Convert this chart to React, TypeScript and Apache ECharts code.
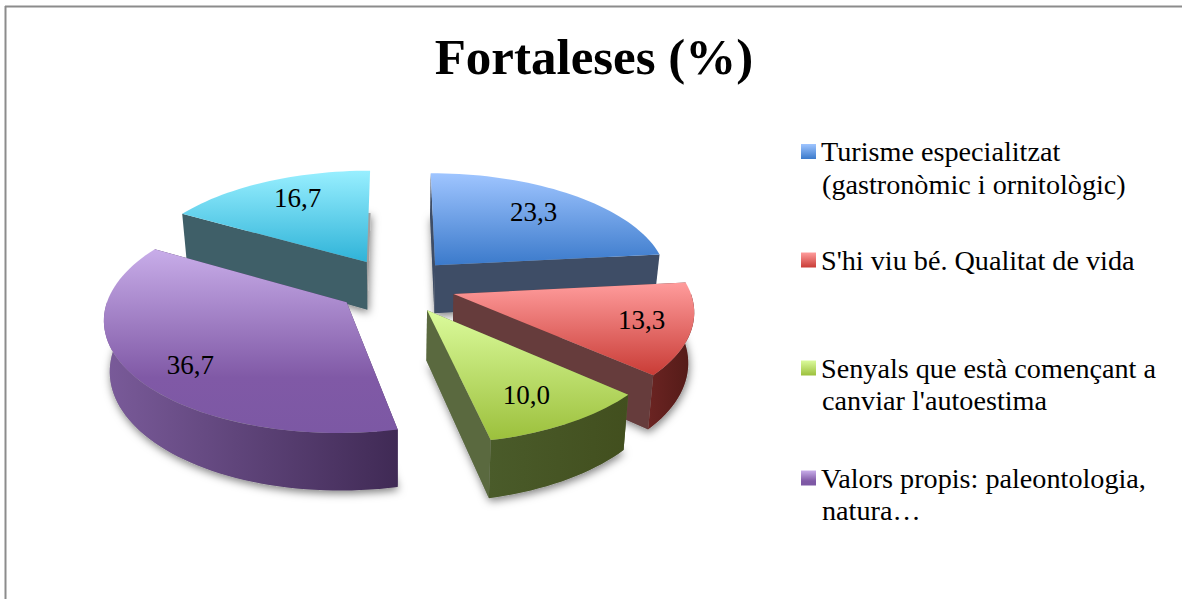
import React, { useEffect, useRef } from "react";
import * as echarts from "echarts";

const titleText = "Fortaleses (%)";
const categories = [
  "Turisme especialitzat\n(gastronòmic i ornitològic)",
  "S'hi viu bé. Qualitat de vida",
  "Senyals que està començant a\ncanviar l'autoestima",
  "Valors propis: paleontologia,\nnatura…",
  "",
];
const values = [23.3, 13.3, 10.0, 36.7, 16.7];
const seriesNames = [categories[0], categories[1], categories[2], categories[3], "Altres"];

const topColors = [
  [[0, "#9fc5ff"], [1, "#3b7acb"]],
  [[0, "#ff9c9c"], [1, "#c93c36"]],
  [[0, "#dbfb9c"], [1, "#9cc03c"]],
  [[0, "#c8ade9"], [0.7, "#8059a6"], [1, "#7c58a4"]],
  [[0, "#98efff"], [1, "#2fb3d8"]],
];
const cutColors = ["#3e4d66", "#663c3c", "#5a693f", "#4a3360", "#3f5f68"];
const wallColors = [
  ["#3e4d66", "#3e4d66"],
  ["#6b2422", "#521a17"],
  ["#4a5b2a", "#424f1e"],
  ["#7a5b9a", "#402a55"],
  ["#3f5f68", "#3f5f68"],
];
const drawOrder = [4, 0, 3, 1, 2];
const labelFractions = [[0.72, 0.76], [0.79, 0.74], [0.70, 0.75], [0.73, 0.86], [0.69, 0.80]];
const legendTops = [136.5, 245, 353, 463];

const CX = 396, CY = 285.5, R = 235, EXPLODE = 0.255, DEPTH = 109, PERSP = 0.13, HEIGHT = 49, TAPER = 0.98;
const FONT = "'Liberation Serif', serif";
const total = values.reduce((a, b) => a + b, 0);

function grad(stops: any[], horizontal = false) {
  return new echarts.graphic.LinearGradient(0, 0, horizontal ? 1 : 0, horizontal ? 0 : 1,
    stops.map(([offset, color]) => ({ offset, color })));
}

function Slice(i: number) {
  let before = 0;
  for (let k = 0; k < i; k++) before += values[k];
  const a0 = (before / total) * Math.PI * 2;
  const a1 = ((before + values[i]) / total) * Math.PI * 2;
  const mid = (a0 + a1) / 2;
  const ox = EXPLODE * Math.sin(mid), oz = -EXPLODE * Math.cos(mid);
  const top = (r: number, a: number) => {
    const X = ox + r * Math.sin(a), Z = oz - r * Math.cos(a);
    const s = 1 / (1 - PERSP * Z);
    return [CX + R * X * s, CY + DEPTH * Z * s, s];
  };
  const pt = (r: number, a: number) => top(r, a).slice(0, 2);
  const low = (r: number, a: number) => {
    const [x, y, s] = top(r, a);
    return [CX + (x - CX) * TAPER, y + HEIGHT * s];
  };
  const arc = (f: (r: number, a: number) => number[], from: number, to: number) => {
    const out: number[][] = [];
    const n = Math.max(2, Math.ceil(((to - from) / Math.PI) * 90));
    for (let k = 0; k <= n; k++) out.push(f(1, from + ((to - from) * k) / n));
    return out;
  };
  return { a0, a1, mid, pt, low, arc };
}

const renderSlice = (i: number) => (_p: any, api: any) => {
  const value = api.value(0);
  const { a0, a1, mid, pt, low, arc } = Slice(i);
  const children: any[] = [];
  children.push({
    type: "polygon",
    shape: { points: [low(0, 0), ...arc(low, a0, a1)] },
    style: { fill: "#a0a0a0", shadowBlur: 9, shadowColor: "rgba(0,0,0,0.5)", shadowOffsetX: 1, shadowOffsetY: 3 },
  });
  [a0, a1].forEach((a) => {
    // the wall that closes the circle at twelve o'clock faces away from the viewer
    if (a > Math.PI * 2 - 1e-6) return;
    children.push({
      type: "polygon",
      shape: { points: [pt(0, 0), pt(1, a), low(1, a), low(0, 0)] },
      style: { fill: cutColors[i] },
    });
  });
  const from = Math.max(a0, Math.PI / 2), to = Math.min(a1, (Math.PI * 3) / 2);
  if (to > from) {
    const up = arc(pt, from, to);
    const down = arc(low, from, to).reverse();
    children.push({
      type: "polygon",
      shape: { points: [...up, ...down] },
      style: { fill: grad([[0, wallColors[i][0]], [1, wallColors[i][1]]], true) },
    });
  }
  children.push({
    type: "polygon",
    shape: { points: [pt(0, 0), ...arc(pt, a0, a1)] },
    style: { fill: grad(topColors[i]) },
  });
  const apex = pt(0, 0), edge = pt(1, mid);
  children.push({
    type: "text",
    style: {
      text: value.toFixed(1).replace(".", ","),
      x: apex[0] + (edge[0] - apex[0]) * labelFractions[i][0],
      y: apex[1] + (edge[1] - apex[1]) * labelFractions[i][1],
      align: "center",
      verticalAlign: "middle",
      font: `27px ${FONT}`,
      fill: "#000",
    },
  });
  return { type: "group", children };
};

export default function App() {
  const ref = useRef<HTMLDivElement>(null);
  useEffect(() => {
    const chart = echarts.init(ref.current!, null, { renderer: "svg", width: 1182, height: 599 });
    const legendStyle = { fontFamily: FONT, fontSize: 28.2, color: "#000", lineHeight: 30 };
    chart.setOption({
      animation: false,
      backgroundColor: "#fff",
      title: {
        text: titleText,
        left: 589,
        top: 26,
        textAlign: "center",
        textStyle: { fontFamily: FONT, fontSize: 51, fontWeight: "bold", color: "#000" },
      },
      legend: legendTops.map((top, i) => ({
        data: [seriesNames[i]],
        left: 801,
        top,
        padding: 0,
        icon: "rect",
        itemWidth: 15,
        itemHeight: 15,
        itemGap: 0,
        selectedMode: false,
        formatter: (n: string) => n.split("\n")[0],
        textStyle: legendStyle,
      })),
      graphic: [
        { type: "line", shape: { x1: 5, y1: 6.5, x2: 1182, y2: 6.5 }, style: { stroke: "#8c8c8c", lineWidth: 2 } },
        { type: "line", shape: { x1: 5.5, y1: 6, x2: 5.5, y2: 599 }, style: { stroke: "#8c8c8c", lineWidth: 2 } },
        ...categories
          .map((c, i) => ({ line: c.split("\n")[1], i }))
          .filter((e) => e.line)
          .map((e) => ({
            type: "text",
            left: 822,
            top: legendTops[e.i] + 32.5,
            style: { text: e.line, font: `28.2px ${FONT}`, fill: "#000", lineHeight: 30 },
          })),
      ],
      series: drawOrder.map((i) => ({
        type: "custom",
        name: seriesNames[i],
        coordinateSystem: "none",
        silent: true,
        itemStyle: { color: grad(topColors[i]) },
        data: [[values[i]]],
        renderItem: renderSlice(i),
      })),
    });
    return () => chart.dispose();
  }, []);
  return <div ref={ref} style={{ position: "fixed", left: 0, top: 0, width: 1182, height: 599 }} />;
}
